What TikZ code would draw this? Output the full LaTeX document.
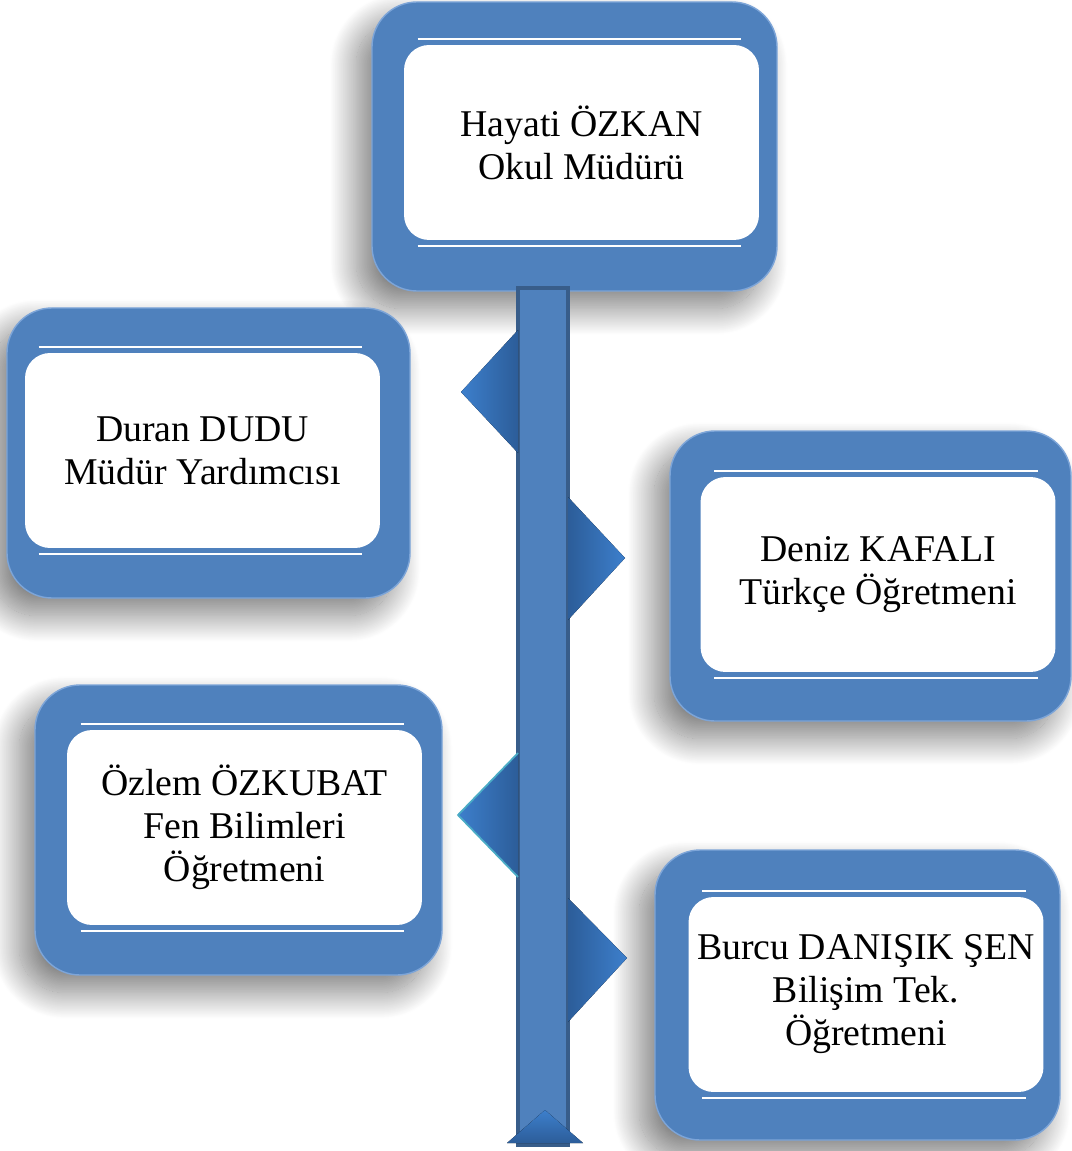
\documentclass[tikz,border=0pt]{standalone}
\usepackage{fontspec}
\setmainfont{Liberation Serif}
\usetikzlibrary{shadows.blur}

\definecolor{kutu}{HTML}{4F81BD}
\definecolor{kutukenar}{HTML}{385D8A}
\definecolor{parlak}{HTML}{7DA5D8}
\definecolor{ucgenacik}{HTML}{3D7FCC}
\definecolor{ucgenkoyu}{HTML}{2C5D99}
\definecolor{turkuaz}{HTML}{4BACC6}

\tikzset{
    dis/.style={fill=kutu, draw=parlak, line width=0.8pt, rounded corners=0.9cm,
        blur shadow={shadow xshift=-9pt, shadow yshift=-10pt, shadow blur radius=15pt,
            shadow blur steps=40, shadow opacity=50}},
    ic/.style={fill=white, rounded corners=0.5cm, minimum width=7.1cm, minimum height=3.9cm,
        inner sep=0pt, align=center, font=\fontsize{21.5}{24.5}\selectfont},
    cizgi/.style={white, line width=1.3pt},
    cubuk/.style={fill=kutu, draw=kutukenar, line width=2.6pt},
    solucgen/.style={left color=ucgenacik, right color=ucgenkoyu},
    sagucgen/.style={left color=ucgenkoyu, right color=ucgenacik}
}

\begin{document}
\begin{tikzpicture}[x=0.02cm, y=-0.02cm]
        \useasboundingbox (0,0) rectangle (1071,1151);

        % kutular
        \draw[dis] (372,2) rectangle (777,291);
        \draw[dis] (7,308) rectangle (410,598);
        \draw[dis] (670,431) rectangle (1071,721);
        \draw[dis] (35,685) rectangle (442,975);
        \draw[dis] (655,850) rectangle (1060,1140);

        \node[ic] (mudur) at (581.5,142.5) {Hayati ÖZKAN\\Okul Müdürü};
        \node[ic] (yardimci) at (202.5,450.5) {Duran DUDU\\Müdür Yardımcısı};
        \node[ic] (turkce) at (878,574.5) {Deniz KAFALI\\Türkçe Öğretmeni};
        \node[ic] (fen) at (244.5,827.5) {Özlem ÖZKUBAT\\Fen Bilimleri\\Öğretmeni};
        \node[ic] (bilisim) at (866,994.5) {Burcu DANIŞIK ŞEN\\Bilişim Tek.\\Öğretmeni};

        \foreach \k in {mudur,yardimci,turkce,fen,bilisim} {
            \draw[cizgi] ([xshift=0.28cm, yshift=0.12cm]\k.north west) -- ([xshift=-0.36cm, yshift=0.12cm]\k.north east);
            \draw[cizgi] ([xshift=0.28cm, yshift=-0.12cm]\k.south west) -- ([xshift=-0.36cm, yshift=-0.12cm]\k.south east);
        }

        % dikey cubuk
        \coordinate (bartop) at (543,288);
        \coordinate (barend) at (543,1145);
        \draw[cubuk] ([xshift=-0.5cm]bartop) rectangle ([xshift=0.5cm]barend);

        % ucgenler
        \fill[solucgen] (518,330) -- (461,392) -- (518,453) -- cycle;
        \fill[sagucgen] (568,497) -- (625,558) -- (568,620) -- cycle;
        \fill[solucgen] (518,753) -- (458,815) -- (518,877) -- cycle;
        \draw[turkuaz, line width=1pt] (518,753) -- (458,815) -- (518,877);
        \fill[sagucgen] (568,898) -- (627,958) -- (568,1022) -- cycle;
        \fill[top color=ucgenacik, bottom color=ucgenkoyu] (507,1143) -- (545,1110) -- (583,1143) -- cycle;
    \end{tikzpicture}
\end{document}
